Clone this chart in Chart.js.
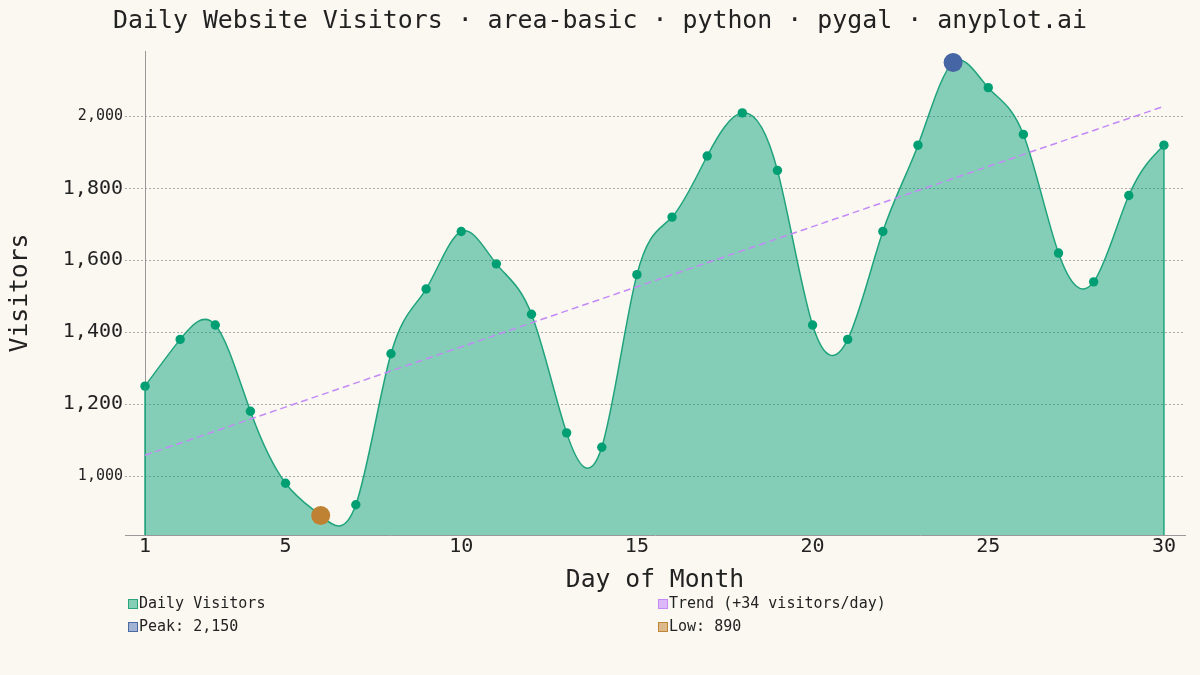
<!DOCTYPE html>
<html>
<head>
<meta charset="utf-8">
<script src="https://cdn.jsdelivr.net/npm/chart.js@4/dist/chart.umd.min.js"></script>
<style>
  html, body { margin: 0; padding: 0; background: #FAF8F1; }
  #wrap { position: relative; width: 1200px; height: 675px; }
  canvas { position: absolute; left: 0; top: 0; }
  .lg { position: absolute; font-family: 'DejaVu Sans Mono', monospace; font-size: 15px; color: #222; line-height: 18px; white-space: nowrap; }
  .sw { display: inline-block; width: 8px; height: 8px; border: 1px solid; margin-right: 1px; vertical-align: -1px; }
</style>
</head>
<body>
<div id="wrap">
  <canvas id="c" width="1200" height="675"></canvas>
</div>
<script>
// ---- data ----
const days = [1,2,3,4,5,6,7,8,9,10,11,12,13,14,15,16,17,18,19,20,21,22,23,24,25,26,27,28,29,30];
const visitors = [1250,1380,1420,1180,980,890,920,1340,1520,1680,1590,1450,1120,1080,1560,1720,1890,2010,1850,1420,1380,1680,1920,2150,2080,1950,1620,1540,1780,1920];
const trendDays = [1, 30];
const trendValues = [1058, 2028];
const trendLabel = 'Trend (+34 visitors/day)';
const xTicks = [1,5,10,15,20,25,30];
const yTicks = [1000,1200,1400,1600,1800,2000];
const yMajor = [1000,2000];
const xRange = [0.43, 30.6];
const yRange = [836, 2182];

const peakIdx = visitors.indexOf(Math.max(...visitors));
const lowIdx = visitors.indexOf(Math.min(...visitors));
const fmt = v => Number(v).toLocaleString('en-US');

const FONT = "'DejaVu Sans Mono', monospace";
const GREEN = '#009E73';

// natural cubic spline smoothing (pygal-style) applied to Chart.js bezier control points
const splinePlugin = {
  id: 'naturalSpline',
  afterDatasetsUpdate(chart) {
    const meta = chart.getDatasetMeta(0);
    const pts = meta.data;
    const n = pts.length;
    if (n < 3) return;
    const xs = pts.map(p => p.x), ys = pts.map(p => p.y);
    const h = [];
    for (let i = 0; i < n - 1; i++) h.push(xs[i + 1] - xs[i]);
    const a = new Array(n).fill(0), b = new Array(n).fill(1), c = new Array(n).fill(0), d = new Array(n).fill(0);
    for (let i = 1; i < n - 1; i++) {
      a[i] = h[i - 1];
      b[i] = 2 * (h[i - 1] + h[i]);
      c[i] = h[i];
      d[i] = 6 * ((ys[i + 1] - ys[i]) / h[i] - (ys[i] - ys[i - 1]) / h[i - 1]);
    }
    for (let i = 1; i < n; i++) {
      const w = a[i] / b[i - 1];
      b[i] -= w * c[i - 1];
      d[i] -= w * d[i - 1];
    }
    const M = new Array(n).fill(0);
    M[n - 1] = d[n - 1] / b[n - 1];
    for (let i = n - 2; i >= 0; i--) M[i] = (d[i] - c[i] * M[i + 1]) / b[i];
    M[0] = 0; M[n - 1] = 0;
    const m = new Array(n);
    for (let i = 0; i < n - 1; i++) m[i] = (ys[i + 1] - ys[i]) / h[i] - h[i] * (2 * M[i] + M[i + 1]) / 6;
    m[n - 1] = (ys[n - 1] - ys[n - 2]) / h[n - 2] + h[n - 2] * (M[n - 2] + 2 * M[n - 1]) / 6;
    for (let i = 0; i < n; i++) {
      const p = pts[i];
      const hb = i > 0 ? h[i - 1] : 0;
      const hf = i < n - 1 ? h[i] : 0;
      p.cp1x = xs[i] - hb / 3; p.cp1y = ys[i] - m[i] * hb / 3;
      p.cp2x = xs[i] + hf / 3; p.cp2y = ys[i] + m[i] * hf / 3;
    }
    if (meta.dataset) meta.dataset._pointsUpdated = true;
  }
};

const edgePlugin = {
  id: 'edges',
  beforeDatasetsDraw(chart) {
    const {ctx, chartArea, scales} = chart;
    const x = scales.x.getPixelForValue(days[0]);
    ctx.save();
    ctx.strokeStyle = '#999999';
    ctx.lineWidth = 1;
    ctx.beginPath();
    ctx.moveTo(Math.round(x) + 0.5, chartArea.top);
    ctx.lineTo(Math.round(x) + 0.5, chartArea.bottom);
    ctx.stroke();
    ctx.restore();
  },
  afterDatasetDraw(chart, args) {
    if (args.index !== 0) return;
    const {ctx, chartArea} = chart;
    const pts = chart.getDatasetMeta(0).data;
    ctx.save();
    ctx.strokeStyle = '#1FA37C';
    ctx.lineWidth = 1.5;
    [pts[0], pts[pts.length - 1]].forEach(p => {
      ctx.beginPath();
      ctx.moveTo(p.x, p.y);
      ctx.lineTo(p.x, chartArea.bottom);
      ctx.stroke();
    });
    ctx.restore();
  }
};

new Chart(document.getElementById('c'), {
  type: 'line',
  data: {
    datasets: [
      {
        label: 'Daily Visitors',
        data: days.map((d, i) => ({x: d, y: visitors[i]})),
        fill: 'start',
        backgroundColor: 'rgba(0,158,115,0.47)',
        borderColor: '#1FA37C',
        borderWidth: 1.5,
        tension: 0.4,
        pointRadius: 4.7,
        pointBackgroundColor: GREEN,
        pointBorderWidth: 0,
        order: 4
      },
      {
        label: trendLabel,
        data: trendDays.map((d, i) => ({x: d, y: trendValues[i]})),
        borderColor: '#C38AF7',
        borderWidth: 1.5,
        borderDash: [7, 4],
        pointRadius: 0,
        fill: false,
        order: 3
      },
      {
        label: 'Peak: ' + fmt(visitors[peakIdx]),
        data: [{x: days[peakIdx], y: visitors[peakIdx]}],
        showLine: false,
        pointRadius: 9.5,
        pointBackgroundColor: '#4565A5',
        pointBorderWidth: 0,
        order: 2
      },
      {
        label: 'Low: ' + fmt(visitors[lowIdx]),
        data: [{x: days[lowIdx], y: visitors[lowIdx]}],
        showLine: false,
        pointRadius: 9.5,
        pointBackgroundColor: '#BF8233',
        pointBorderWidth: 0,
        order: 1
      }
    ]
  },
  options: {
    responsive: false,
    animation: false,
    devicePixelRatio: 1,
    layout: { padding: { left: 0, right: 0, top: 0, bottom: 80 } },
    plugins: {
      legend: { display: false },
      tooltip: { enabled: false },
      title: {
        display: true,
        text: 'Daily Website Visitors · area-basic · python · pygal · anyplot.ai',
        font: { family: FONT, size: 24.9, weight: 'normal' },
        color: '#222222',
        padding: { top: 6.8, bottom: 14.3 }
      }
    },
    scales: {
      x: {
        type: 'linear',
        min: xRange[0],
        max: xRange[1],
        afterBuildTicks: s => { s.ticks = xTicks.map(v => ({value: v})); },
        afterFit: s => { s.height = 60; },
        ticks: {
          callback: v => String(v),
          font: { family: FONT, size: 20 },
          color: '#222222',
          padding: 0,
          maxRotation: 0,
          autoSkip: false
        },
        grid: { display: false, drawTicks: false },
        border: { display: true, color: '#999999', width: 1 },
        title: {
          display: true,
          text: 'Day of Month',
          font: { family: FONT, size: 24.7 },
          color: '#222222',
          padding: { top: 0, bottom: 0 }
        }
      },
      y: {
        min: yRange[0],
        max: yRange[1],
        afterBuildTicks: s => { s.ticks = yTicks.map(v => ({value: v})); },
        afterFit: s => { s.width = 125; },
        ticks: {
          callback: v => fmt(v),
          font: ctx => ({ family: FONT, size: (ctx.tick && yMajor.includes(ctx.tick.value)) ? 15 : 20 }),
          color: '#222222',
          padding: 2
        },
        grid: { color: '#AAAAAA', lineWidth: 1, drawTicks: false },
        border: { display: false, dash: [2, 2] },
        title: {
          display: true,
          text: 'Visitors',
          font: { family: FONT, size: 24.7 },
          color: '#222222',
          padding: { top: 6, bottom: 0 }
        }
      },
      yRight: {
        position: 'right',
        display: true,
        min: yRange[0],
        max: yRange[1],
        afterFit: s => { s.width = 15; },
        ticks: { display: false },
        grid: { display: false, drawTicks: false },
        border: { display: false }
      }
    }
  },
  plugins: [splinePlugin, edgePlugin]
});

// ---- legend (HTML) ----
const legendItems = [
  { text: 'Daily Visitors', fill: '#84CFB6', stroke: '#2AA57C', left: 128, top: 594 },
  { text: 'Peak: ' + fmt(visitors[peakIdx]), fill: '#A3B3D3', stroke: '#4A6AA5', left: 128, top: 617 },
  { text: trendLabel, fill: '#DCB8F8', stroke: '#C78AF5', left: 658, top: 594 },
  { text: 'Low: ' + fmt(visitors[lowIdx]), fill: '#DCB98C', stroke: '#C08535', left: 658, top: 617 }
];
const wrap = document.getElementById('wrap');
legendItems.forEach(it => {
  const d = document.createElement('div');
  d.className = 'lg';
  d.style.left = it.left + 'px';
  d.style.top = it.top + 'px';
  const sw = document.createElement('span');
  sw.className = 'sw';
  sw.style.background = it.fill;
  sw.style.borderColor = it.stroke;
  d.appendChild(sw);
  d.appendChild(document.createTextNode(it.text));
  wrap.appendChild(d);
});
</script>
</body>
</html>
